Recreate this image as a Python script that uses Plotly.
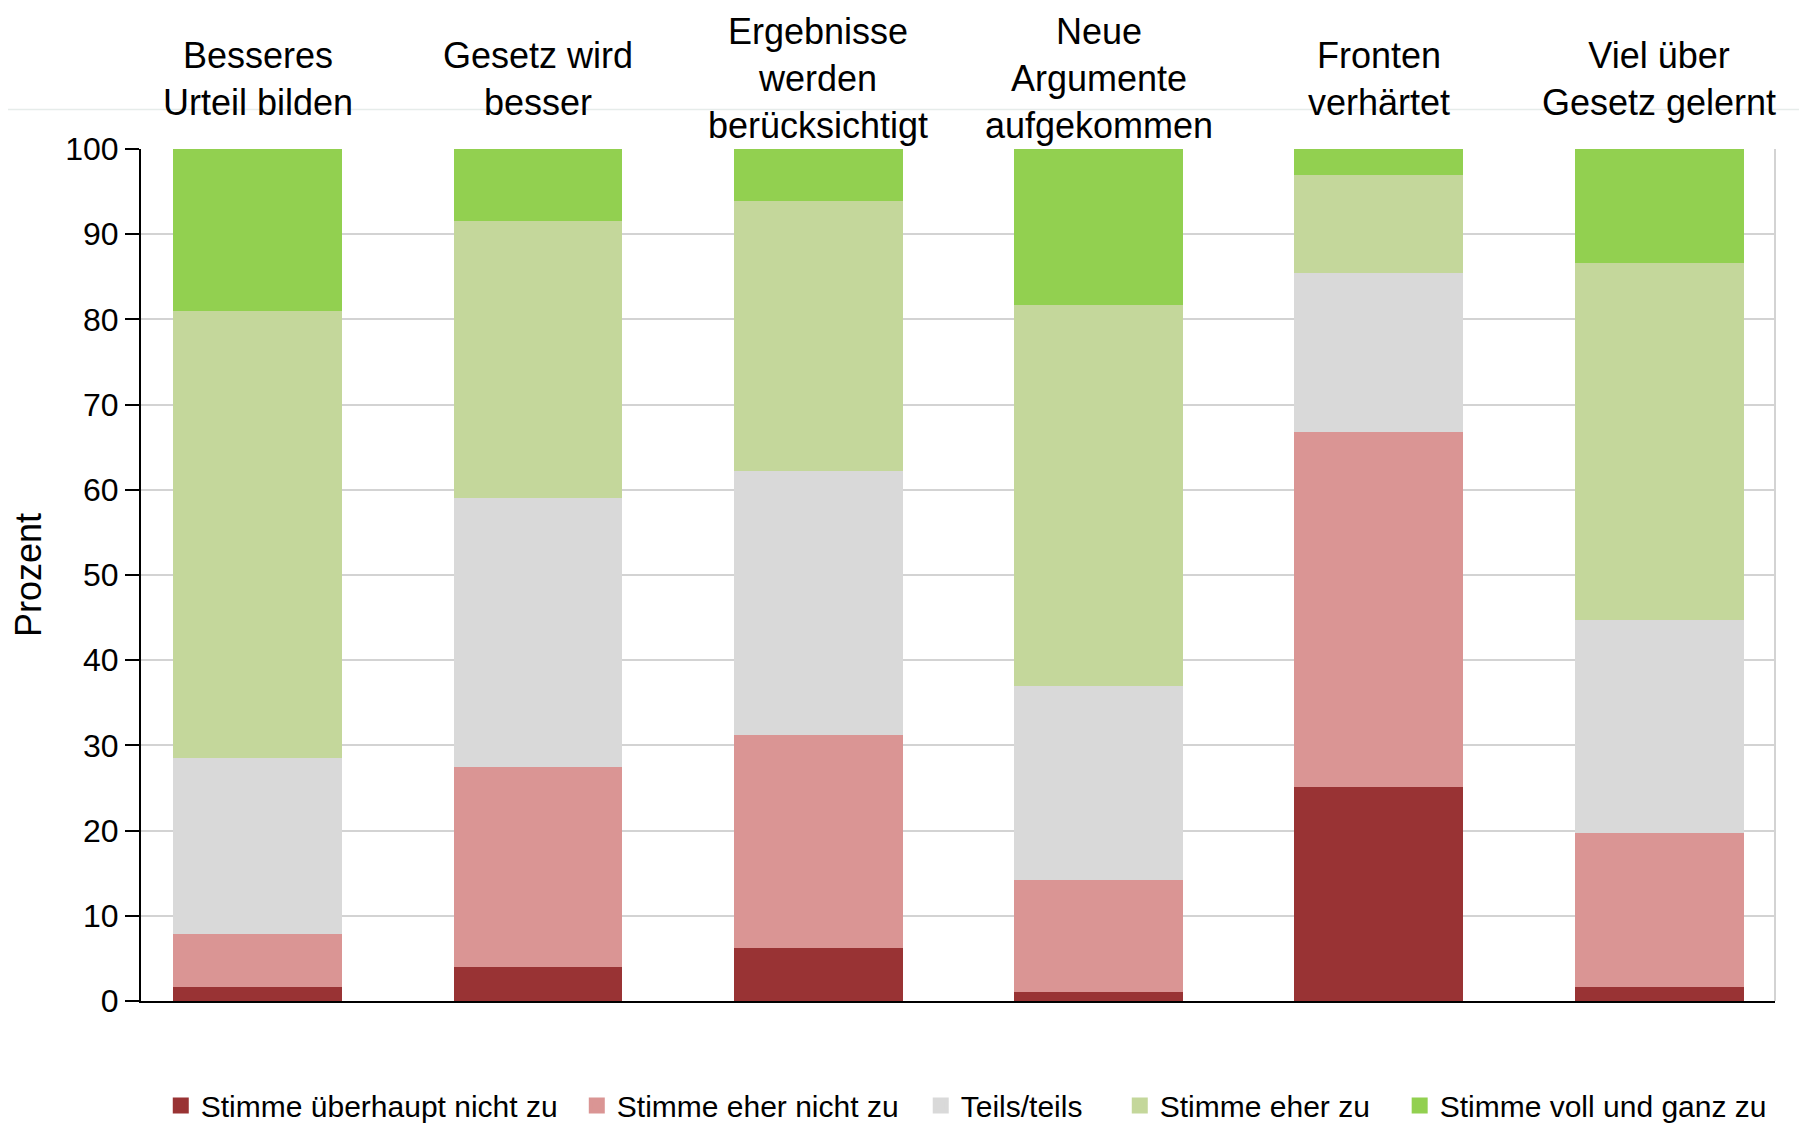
import plotly.graph_objects as go

categories = [
    "Besseres<br>Urteil bilden",
    "Gesetz wird<br>besser",
    "Ergebnisse<br>werden<br>berücksichtigt",
    "Neue<br>Argumente<br>aufgekommen",
    "Fronten<br>verhärtet",
    "Viel über<br>Gesetz gelernt",
]
series_names = [
    "Stimme überhaupt nicht zu",
    "Stimme eher nicht zu",
    "Teils/teils",
    "Stimme eher zu",
    "Stimme voll und ganz zu",
]
stimme_ueberhaupt_nicht_zu = [1.9, 4.2, 6.4, 1.35, 25.4, 1.9]
stimme_eher_nicht_zu = [6.2, 23.5, 25.0, 13.1, 41.6, 18.0]
teils_teils = [20.7, 31.6, 31.0, 22.8, 18.7, 25.1]
stimme_eher_zu = [52.4, 32.5, 31.7, 44.7, 11.5, 41.9]
stimme_voll_und_ganz_zu = [18.8, 8.2, 5.9, 18.0, 2.8, 13.1]
y_ticks = [0, 10, 20, 30, 40, 50, 60, 70, 80, 90, 100]

series_values = [
    stimme_ueberhaupt_nicht_zu,
    stimme_eher_nicht_zu,
    teils_teils,
    stimme_eher_zu,
    stimme_voll_und_ganz_zu,
]
colors = ["#993334", "#da9594", "#d9d9d9", "#c4d79b", "#92d050"]
legend_x = [0.0121, 0.2667, 0.4772, 0.5990, 0.7703]

FONT = "Liberation Sans, Arial, sans-serif"
x_idx = list(range(len(categories)))

# plot area in figure coordinates (page has an 8px body offset)
M_L, M_R, M_T, M_B = 133, 40, 141, 130.5
PLOT_H = 1124 - M_T - M_B
LW = 4

fig = go.Figure()
legend_ids = ["legend"] + [f"legend{i}" for i in range(2, len(series_names) + 1)]
for name, vals, col, lid in zip(series_names, series_values, colors, legend_ids):
    fig.add_trace(go.Bar(
        x=x_idx, y=vals, name=name, legend=lid,
        marker=dict(color=col, line=dict(color=col, width=LW)),
        hoverinfo="skip",
    ))

annotations = []
for i, c in enumerate(categories):
    annotations.append(dict(
        x=i, xref="x", y=1.0827, yref="paper", text=c, showarrow=False,
        xanchor="center", yanchor="middle", align="center",
        font=dict(family=FONT, size=36, color="black"),
    ))

line_y = (1124 - M_B - 101.5) / PLOT_H

legends = {}
for lid, lx in zip(legend_ids, legend_x):
    legends[lid] = dict(
        orientation="h", x=lx, xanchor="left", y=-0.1226, yanchor="middle",
        font=dict(family=FONT, size=30, color="black"),
        itemclick=False, itemdoubleclick=False, bgcolor="rgba(0,0,0,0)",
    )

fig.update_layout(
    width=1807, height=1124,
    barmode="stack", bargap=0.412,
    paper_bgcolor="white", plot_bgcolor="white",
    margin=dict(l=M_L, r=M_R, t=M_T, b=M_B, pad=0, autoexpand=False),
    font=dict(family=FONT, color="black"),
    showlegend=True,
    annotations=annotations,
    shapes=[
        dict(type="line", xref="paper", yref="paper", x0=1, x1=1, y0=0, y1=1,
             line=dict(color="#d3d3d3", width=2), layer="below"),
        dict(type="line", xref="paper", yref="paper", x0=-0.1, x1=1.1,
             y0=line_y, y1=line_y,
             line=dict(color="#e6ecea", width=1.5)),
    ],
    **legends,
)
fig.update_xaxes(
    range=[-0.4165, 5.4135], showticklabels=False, ticks="",
    showgrid=False, zeroline=False,
    showline=True, linecolor="black", linewidth=2,
)
fig.update_yaxes(
    range=[0, 100], tickvals=y_ticks, ticktext=[str(v) for v in y_ticks],
    ticks="outside", ticklen=14, tickwidth=2, tickcolor="black",
    tickfont=dict(family=FONT, size=32, color="black"),
    showgrid=True, gridcolor="#d3d3d3", gridwidth=2,
    zeroline=False, showline=True, linecolor="black", linewidth=2,
    title=dict(text="Prozent", font=dict(family=FONT, size=36, color="black"), standoff=14),
)

fig.write_html("out.html")
